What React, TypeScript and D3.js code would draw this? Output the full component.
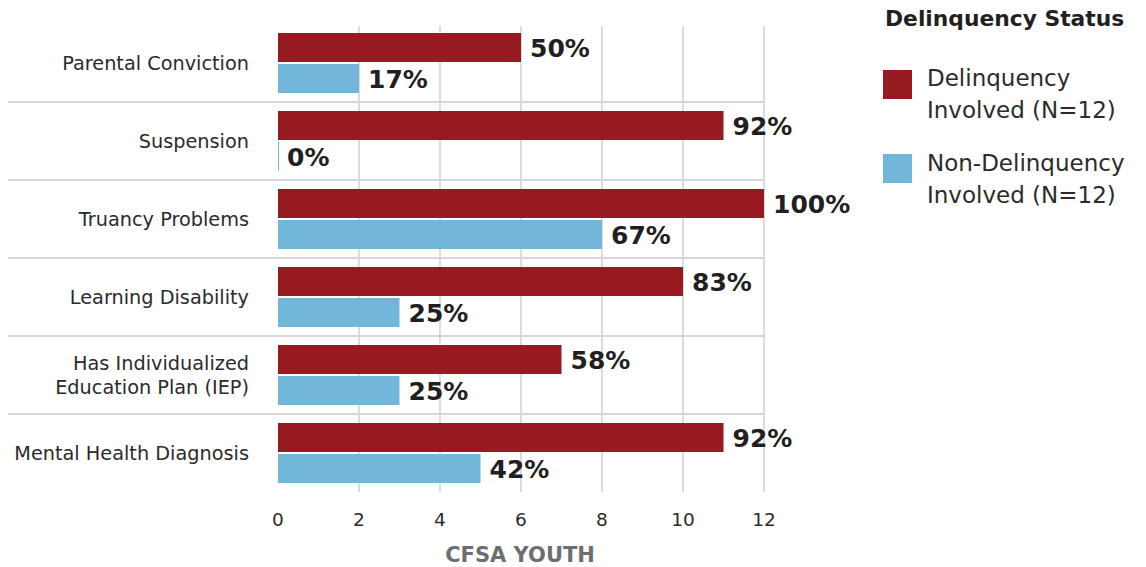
import React from "react";
import * as d3 from "d3";

const categories = [
  "Parental Conviction",
  "Suspension",
  "Truancy Problems",
  "Learning Disability",
  "Has Individualized\nEducation Plan (IEP)",
  "Mental Health Diagnosis",
];
const seriesNames = ["Delinquency Involved (N=12)", "Non-Delinquency Involved (N=12)"];
const legendLines = [["Delinquency", "Involved (N=12)"], ["Non-Delinquency", "Involved (N=12)"]];
const delinquentCounts = [6, 11, 12, 10, 7, 11];
const delinquentPct = ["50%", "92%", "100%", "83%", "58%", "92%"];
const nonDelinquentCounts = [2, 0, 8, 3, 3, 5];
const nonDelinquentPct = ["17%", "0%", "67%", "25%", "25%", "42%"];
const xTicks = [0, 2, 4, 6, 8, 10, 12];
const colors = ["#971a20", "#72b7da"];

const W = 1146;
const H = 567;
const FONT = "'DejaVu Sans', sans-serif";

export default function App() {
  const x = d3.scaleLinear().domain([0, 12]).range([278, 764]);
  const y = d3
    .scaleBand<string>()
    .domain(categories)
    .range([24, 492])
    .paddingInner(18 / 78)
    .paddingOuter(9 / 78);
  const inner = d3
    .scaleBand<string>()
    .domain(seriesNames)
    .range([0, y.bandwidth()])
    .paddingInner(2 / 31);

  const series = [
    { name: seriesNames[0], values: delinquentCounts, labels: delinquentPct },
    { name: seriesNames[1], values: nonDelinquentCounts, labels: nonDelinquentPct },
  ];

  const step = y.step();
  const separators = categories.slice(1).map((c) => (y(c) as number) - (step - y.bandwidth()) / 2);

  return (
    <svg
      width={W}
      height={H}
      style={{ position: "absolute", left: 0, top: 0, background: "#fff" }}
      fontFamily={FONT}
    >
      {xTicks.slice(1).map((t) => (
        <line key={"g" + t} x1={x(t)} x2={x(t)} y1={26} y2={492} stroke="#dcdcdc" strokeWidth={2} />
      ))}
      {separators.map((s, i) => (
        <line key={"s" + i} x1={8} x2={x(12)} y1={s} y2={s} stroke="#d6d6d6" strokeWidth={2} />
      ))}
      {categories.map((c) => {
        const lines = c.split("\n");
        const cy = (y(c) as number) + y.bandwidth() / 2;
        const lh = 24;
        return (
          <text key={c} x={249} textAnchor="end" fontSize={19.3} fill="#2b2b2b">
            {lines.map((l, i) => (
              <tspan key={i} x={249} y={cy + (i - (lines.length - 1) / 2) * lh} dy="0.35em">
                {l}
              </tspan>
            ))}
          </text>
        );
      })}
      {series.map((s, si) =>
        categories.map((c, ci) => {
          const by = (y(c) as number) + (inner(s.name) as number);
          const w = Math.max(1, x(s.values[ci]) - x(0));
          return (
            <g key={si + "-" + ci}>
              <rect x={x(0)} y={by} width={w} height={inner.bandwidth()} fill={colors[si]} />
              <text
                x={x(s.values[ci]) + 9}
                y={by + inner.bandwidth() / 2}
                dy="0.36em"
                fontSize={25}
                fontWeight="bold"
                fill="#231f20"
              >
                {s.labels[ci]}
              </text>
            </g>
          );
        })
      )}
      {xTicks.map((t) => (
        <text key={"t" + t} x={x(t)} y={520} dy="0.35em" textAnchor="middle" fontSize={18.5} fill="#2b2b2b">
          {t}
        </text>
      ))}
      <text x={520} y={555} dy="0.35em" textAnchor="middle" fontSize={21} fontWeight="bold" fill="#6d6e71">
        CFSA YOUTH
      </text>
      <text x={885} y={18} dy="0.35em" fontSize={21.8} fontWeight="bold" fill="#231f20">
        Delinquency Status
      </text>
      {legendLines.map((lines, i) => (
        <g key={"l" + i}>
          <rect x={883} y={70 + i * 84} width={29} height={29} fill={colors[i]} />
          {lines.map((l, j) => (
            <text key={j} x={927} y={78 + i * 85 + j * 32} dy="0.35em" fontSize={23} fill="#2b2b2b">
              {l}
            </text>
          ))}
        </g>
      ))}
    </svg>
  );
}
